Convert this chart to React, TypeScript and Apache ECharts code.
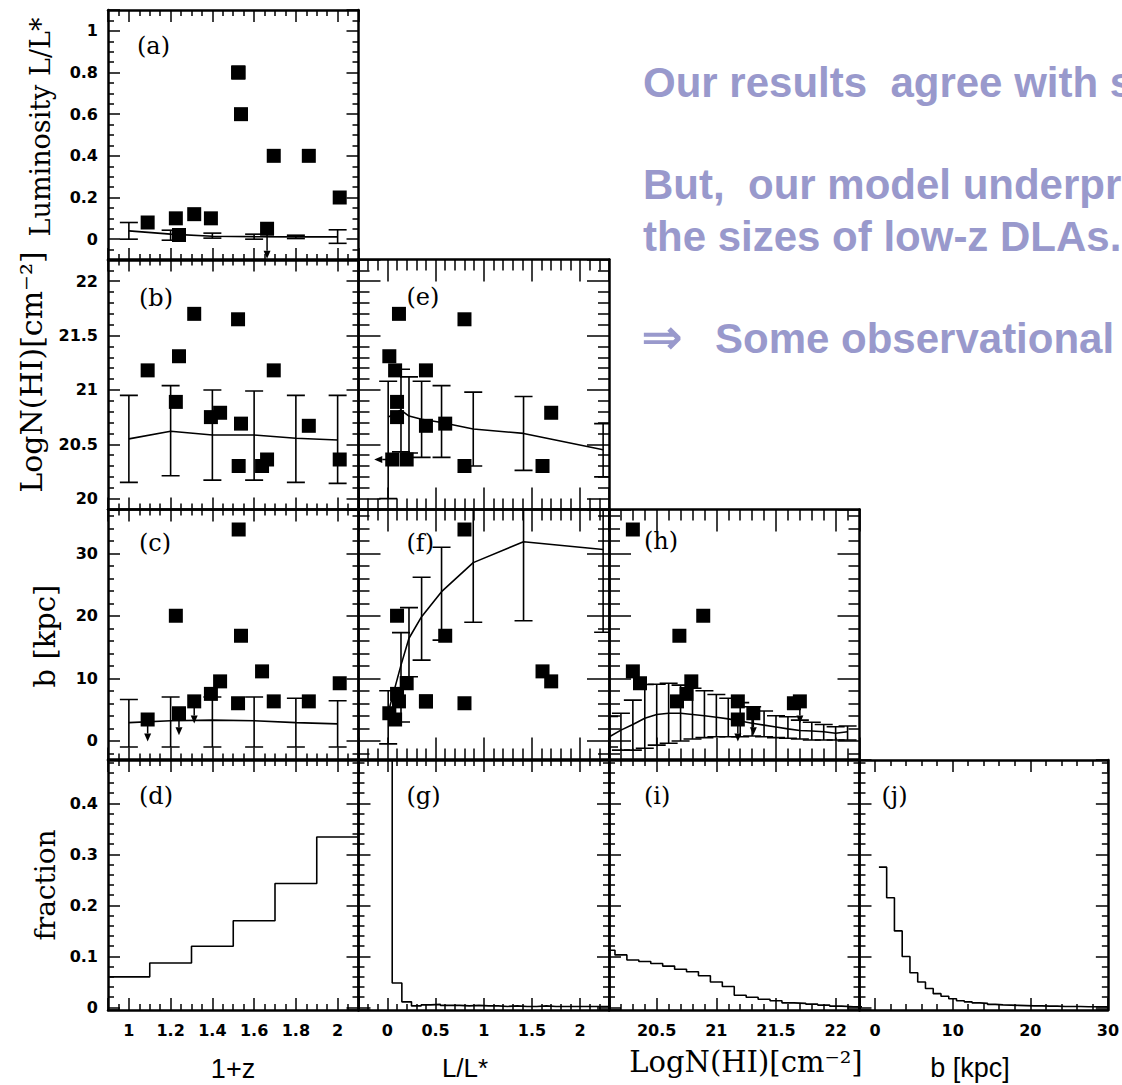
import React, { useEffect, useRef } from "react";
import * as echarts from "echarts";

// ---------- observed DLA host galaxies (one entry per object) ----------
const obsOnePlusZ = [1.09, 1.225, 1.24, 1.313, 1.393, 1.437, 1.523, 1.526, 1.537, 1.638, 1.662, 1.694, 1.862, 2.01];
const obsLum = [0.08, 0.1, 0.02, 0.12, 0.1, 1.7, 0.8, 0.8, 0.6, 1.61, 0.05, 0.4, 0.4, 0.2];
const obsLumUpper = [false, false, false, false, false, false, false, false, false, false, true, false, false, false];
const obsLogNHI = [21.18, 20.89, 21.31, 21.7, 20.75, 20.79, 21.65, 20.3, 20.69, 20.3, 20.36, 21.18, 20.67, 20.36];
const obsImpact: (number | null)[] = [3.4, 20.0, 4.4, 6.3, 7.5, 9.5, 6.0, 33.8, 16.8, 11.1, null, 6.3, 6.3, 9.2];
const obsImpactUpper = [true, false, true, true, false, false, false, false, false, false, false, false, false, false];

// ---------- model, binned in 1+z ----------
const zBins = [1.0, 1.2, 1.4, 1.6, 1.8, 2.0];
const lumByZ = [0.04, 0.024, 0.014, 0.012, 0.011, 0.011];
const lumByZLo = [0.0, -0.005, 0.005, 0.0, 0.003, -0.02];
const lumByZHi = [0.08, 0.043, 0.029, 0.024, 0.019, 0.045];
const nhiByZ = [20.55, 20.62, 20.585, 20.585, 20.555, 20.54];
const nhiByZLo = [20.15, 20.21, 20.17, 20.17, 20.15, 20.14];
const nhiByZHi = [20.95, 21.04, 21.0, 20.99, 20.95, 20.95];
const impByZ = [2.9, 3.2, 3.3, 3.2, 2.9, 2.7];
const impByZLo = [-1, -1, -1, -1, -1, -1];
const impByZHi = [6.6, 7.0, 7.0, 7.0, 6.8, 6.4];

// ---------- model, binned in L/L* ----------
const lumBins = [0.008, 0.141, 0.224, 0.355, 0.562, 0.891, 1.413, 2.239];
const nhiByLum = [20.75, 20.815, 20.76, 20.73, 20.7, 20.64, 20.6, 20.45];
const nhiByLumLo = [20.0, 20.43, 20.42, 20.38, 20.38, 20.3, 20.26, 20.2];
const nhiByLumHi = [21.08, 21.19, 21.12, 21.08, 21.04, 20.98, 20.94, 20.69];
const impByLum = [4.5, 12.1, 16.4, 19.85, 23.85, 28.5, 31.85, 30.6];
const impByLumLo = [-0.5, 3.0, 10.25, 12.9, 16.1, 18.95, 19.2, 17.35];
const impByLumHi = [8.0, 17.3, 21.3, 26.15, 30.95, 39.5, 45.0, 43.0];

// ---------- model, binned in log N(HI) ----------
const nhiBins = [20.1, 20.2, 20.3, 20.4, 20.5, 20.6, 20.7, 20.8, 20.9, 21.0, 21.1, 21.2, 21.3, 21.4, 21.5, 21.6, 21.7, 21.8, 21.9, 22.0, 22.1];
const impByNhi = [0.6, 1.7, 2.6, 3.6, 4.2, 4.4, 4.4, 4.2, 4.0, 3.75, 3.5, 3.15, 2.8, 2.5, 2.2, 1.9, 1.65, 1.55, 1.45, 1.2, 1.45];
const impByNhiLo = [-1.0, -1.5, -1.5, -1.2, -0.7, -0.4, -0.05, 0.28, 0.5, 0.65, 0.65, 0.65, 0.76, 0.65, 0.5, 0.4, 0.28, 0.12, 0.12, 0.12, 0.12];
const impByNhiHi = [3.9, 4.4, 6.5, 9.0, 9.05, 9.2, 8.9, 8.4, 8.0, 7.4, 6.8, 6.1, 5.45, 4.75, 4.0, 3.85, 3.3, 2.95, 2.6, 2.25, 2.35];

// ---------- model distributions (histograms: bin edges + fraction per bin) ----------
const zHistEdges = [0.9, 1.1, 1.3, 1.5, 1.7, 1.9, 2.1];
const zHistFrac = [0.06, 0.087, 0.12, 0.17, 0.243, 0.334];
const lumHistEdges = [-0.05, 0.05, 0.15, 0.25, 0.35, 0.45, 0.55, 0.65, 0.75, 0.85, 0.95, 1.05, 1.15, 1.25, 1.35, 1.45, 1.55, 1.65, 1.75, 1.85, 1.95, 2.05, 2.15, 2.25, 2.35];
const lumHistFrac = [0.9, 0.048, 0.011, 0.003, 0.005, 0.006, 0.004, 0.004, 0.003, 0.004, 0.003, 0.003, 0.002, 0.003, 0.002, 0.002, 0.003, 0.002, 0.002, 0.002, 0.002, 0.002, 0.002, 0.002];
const nhiHistEdges = [20.05, 20.15, 20.25, 20.35, 20.45, 20.55, 20.65, 20.75, 20.85, 20.95, 21.05, 21.15, 21.25, 21.35, 21.45, 21.55, 21.65, 21.75, 21.85, 21.95, 22.05, 22.15, 22.25];
const nhiHistFrac = [0.112, 0.103, 0.093, 0.09, 0.086, 0.081, 0.075, 0.07, 0.062, 0.05, 0.041, 0.024, 0.02, 0.016, 0.013, 0.009, 0.008, 0.0065, 0.0046, 0.0026, 0.0015, 0.001];
const impHistEdges = [0.5, 1.5, 2.5, 3.5, 4.5, 5.5, 6.5, 7.5, 8.5, 9.5, 10.5, 11.5, 12.5, 13.5, 14.5, 15.5, 16.5, 17.5, 18.5, 19.5, 20.5, 21.5, 22.5, 23.5, 24.5, 25.5, 26.5, 27.5, 28.5, 29.5, 30.5];
const impHistFrac = [0.275, 0.215, 0.15, 0.1, 0.068, 0.05, 0.037, 0.027, 0.022, 0.017, 0.013, 0.011, 0.009, 0.008, 0.006, 0.005, 0.0045, 0.004, 0.0035, 0.003, 0.003, 0.0025, 0.0025, 0.002, 0.002, 0.002, 0.0015, 0.0015, 0.0015, 0.001];

// ---------- texts ----------
const panelTags = ["(a)", "(b)", "(c)", "(d)", "(e)", "(f)", "(g)", "(h)", "(i)", "(j)"];
const noteLines = ["Our results  agree with s", "But,  our model underpr", "the sizes of low-z DLAs."];
const noteArrow = "\u21D2";
const noteLast = "Some observational";

// ---------- layout ----------
const COL_LEFT = [108, 358.5, 609, 859.5];
const ROW_TOP = [10, 259.5, 509.5, 760];
const CELL_W = 250.5;
const CELL_H = 250;

type AxisSpec = { min: number; max: number; step: number; minor: number; showMax: boolean };
const AXES: Record<string, AxisSpec> = {
  zz: { min: 0.9, max: 2.1, step: 0.2, minor: 4, showMax: false },
  lum: { min: -0.3, max: 2.3, step: 0.5, minor: 5, showMax: false },
  nhi: { min: 20.1, max: 22.2, step: 0.5, minor: 5, showMax: false },
  imp: { min: -2, max: 30, step: 10, minor: 5, showMax: true },
  lumY: { min: -0.1, max: 1.1, step: 0.2, minor: 4, showMax: false },
  nhiY: { min: 19.9, max: 22.2, step: 0.5, minor: 5, showMax: false },
  impY: { min: -3, max: 37, step: 10, minor: 5, showMax: false },
  frac: { min: -0.005, max: 0.485, step: 0.1, minor: 5, showMax: false },
};

const PANELS = [
  { col: 0, row: 0, x: "zz", y: "lumY", long: false, tag: [29, 36] },
  { col: 0, row: 1, x: "zz", y: "nhiY", long: false, tag: [31, 38] },
  { col: 0, row: 2, x: "zz", y: "impY", long: false, tag: [31, 33] },
  { col: 0, row: 3, x: "zz", y: "frac", long: false, tag: [31, 36] },
  { col: 1, row: 1, x: "lum", y: "nhiY", long: true, tag: [48, 37] },
  { col: 1, row: 2, x: "lum", y: "impY", long: true, tag: [48, 33] },
  { col: 1, row: 3, x: "lum", y: "frac", long: false, tag: [48, 36] },
  { col: 2, row: 2, x: "nhi", y: "impY", long: true, tag: [35, 31] },
  { col: 2, row: 3, x: "nhi", y: "frac", long: false, tag: [35, 36] },
  { col: 3, row: 3, x: "imp", y: "frac", long: false, tag: [22, 36] },
];

const INK = "#000";
const NOTE_COLOR = "#9999cc";

function makeAxis(spec: AxisSpec, gridIndex: number, position: string, labels: boolean, long: boolean, isX: boolean) {
  return {
    type: "value",
    gridIndex,
    position,
    min: spec.min,
    max: spec.max,
    minInterval: spec.step,
    maxInterval: spec.step,
    axisLine: { show: true, onZero: false, lineStyle: { color: INK, width: 2.5 } },
    axisTick: { show: true, inside: true, length: long ? 22 : 12, lineStyle: { color: INK, width: 1.5 } },
    minorTick: { show: true, splitNumber: spec.minor, length: long ? 11 : 6, lineStyle: { color: INK, width: 1.5 } },
    splitLine: { show: false },
    minorSplitLine: { show: false },
    axisLabel: {
      show: labels,
      showMinLabel: false,
      showMaxLabel: spec.showMax,
      margin: isX ? 12 : 10,
      color: INK,
      fontFamily: "DejaVu Sans",
      fontWeight: "bold",
      fontSize: 16,
    },
  };
}

function errorBars(g: number, xs: number[], lo: number[], hi: number[]) {
  const capHalf = 9;
  return {
    type: "custom",
    xAxisIndex: 2 * g,
    yAxisIndex: 2 * g,
    clip: true,
    silent: true,
    data: xs.map((x, i) => [x, lo[i], hi[i]]),
    renderItem: (_p: any, api: any) => {
      const a = api.coord([api.value(0), api.value(1)]);
      const b = api.coord([api.value(0), api.value(2)]);
      const st = { stroke: INK, lineWidth: 1.6, fill: null };
      return {
        type: "group",
        children: [
          { type: "line", shape: { x1: a[0], y1: a[1], x2: b[0], y2: b[1] }, style: st },
          { type: "line", shape: { x1: a[0] - capHalf, y1: a[1], x2: a[0] + capHalf, y2: a[1] }, style: st },
          { type: "line", shape: { x1: b[0] - capHalf, y1: b[1], x2: b[0] + capHalf, y2: b[1] }, style: st },
        ],
      };
    },
  };
}

function limitArrows(g: number, pts: number[][], dir: "down" | "left", len: number) {
  return {
    type: "custom",
    xAxisIndex: 2 * g,
    yAxisIndex: 2 * g,
    clip: true,
    silent: true,
    data: pts,
    renderItem: (_p: any, api: any) => {
      const p = api.coord([api.value(0), api.value(1)]);
      const dx = dir === "down" ? 0 : -1;
      const dy = dir === "down" ? 1 : 0;
      const e = [p[0] + dx * len, p[1] + dy * len];
      const head = 8;
      const half = 3.5;
      const base = [e[0] - dx * head, e[1] - dy * head];
      const nx = -dy;
      const ny = dx;
      return {
        type: "group",
        children: [
          { type: "line", shape: { x1: p[0], y1: p[1], x2: base[0], y2: base[1] }, style: { stroke: INK, lineWidth: 1.5 } },
          {
            type: "polygon",
            shape: { points: [e, [base[0] + nx * half, base[1] + ny * half], [base[0] - nx * half, base[1] - ny * half]] },
            style: { fill: INK },
          },
        ],
      };
    },
  };
}

function curve(g: number, xs: number[], ys: number[]) {
  return {
    type: "line",
    xAxisIndex: 2 * g,
    yAxisIndex: 2 * g,
    silent: true,
    symbol: "none",
    showSymbol: false,
    lineStyle: { color: INK, width: 1.6 },
    data: xs.map((x, i) => [x, ys[i]]),
  };
}

function histogram(g: number, edges: number[], frac: number[]) {
  const pts: number[][] = [];
  frac.forEach((v, i) => {
    pts.push([edges[i], v], [edges[i + 1], v]);
  });
  return {
    type: "line",
    xAxisIndex: 2 * g,
    yAxisIndex: 2 * g,
    silent: true,
    symbol: "none",
    showSymbol: false,
    lineStyle: { color: INK, width: 1.6 },
    data: pts,
  };
}

function squares(g: number, pts: number[][]) {
  return {
    type: "scatter",
    xAxisIndex: 2 * g,
    yAxisIndex: 2 * g,
    silent: true,
    symbol: "rect",
    symbolSize: 14,
    itemStyle: { color: INK, opacity: 1 },
    data: pts,
  };
}

function pairs(xs: (number | null)[], ys: (number | null)[], keep?: boolean[]) {
  const out: number[][] = [];
  xs.forEach((x, i) => {
    const y = ys[i];
    if (x == null || y == null) return;
    if (keep && !keep[i]) return;
    out.push([x, y]);
  });
  return out;
}

function buildOption() {
  const grid: any[] = [];
  const xAxis: any[] = [];
  const yAxis: any[] = [];
  PANELS.forEach((p, g) => {
    grid.push({ left: COL_LEFT[p.col], top: ROW_TOP[p.row], width: CELL_W, height: CELL_H, containLabel: false });
    xAxis.push(makeAxis(AXES[p.x], g, "bottom", p.row === 3, p.long, true));
    xAxis.push(makeAxis(AXES[p.x], g, "top", false, p.long, true));
    yAxis.push(makeAxis(AXES[p.y], g, "left", p.col === 0, p.long, false));
    yAxis.push(makeAxis(AXES[p.y], g, "right", false, p.long, false));
  });

  const series: any[] = [
    // (a) luminosity vs 1+z
    errorBars(0, zBins, lumByZLo, lumByZHi),
    curve(0, zBins, lumByZ),
    limitArrows(0, pairs(obsOnePlusZ, obsLum, obsLumUpper), "down", 30),
    squares(0, pairs(obsOnePlusZ, obsLum)),
    // (b) N(HI) vs 1+z
    errorBars(1, zBins, nhiByZLo, nhiByZHi),
    curve(1, zBins, nhiByZ),
    squares(1, pairs(obsOnePlusZ, obsLogNHI)),
    // (c) impact parameter vs 1+z
    errorBars(2, zBins, impByZLo, impByZHi),
    curve(2, zBins, impByZ),
    limitArrows(2, pairs(obsOnePlusZ, obsImpact, obsImpactUpper), "down", 22),
    squares(2, pairs(obsOnePlusZ, obsImpact)),
    // (d) redshift distribution
    histogram(3, zHistEdges, zHistFrac),
    // (e) N(HI) vs luminosity
    errorBars(4, lumBins, nhiByLumLo, nhiByLumHi),
    curve(4, lumBins, nhiByLum),
    limitArrows(4, pairs(obsLum, obsLogNHI, obsLumUpper), "left", 18),
    squares(4, pairs(obsLum, obsLogNHI)),
    // (f) impact parameter vs luminosity
    errorBars(5, lumBins, impByLumLo, impByLumHi),
    curve(5, lumBins, impByLum),
    squares(5, pairs(obsLum, obsImpact)),
    // (g) luminosity distribution
    histogram(6, lumHistEdges, lumHistFrac),
    // (h) impact parameter vs N(HI)
    errorBars(7, nhiBins, impByNhiLo, impByNhiHi),
    curve(7, nhiBins, impByNhi),
    limitArrows(7, pairs(obsLogNHI, obsImpact, obsImpactUpper), "down", 22),
    squares(7, pairs(obsLogNHI, obsImpact)),
    // (i) N(HI) distribution
    histogram(8, nhiHistEdges, nhiHistFrac),
    // (j) impact parameter distribution
    histogram(9, impHistEdges, impHistFrac),
  ];

  const serif = '"DejaVu Serif", "Liberation Serif", serif';
  const sans = '"Liberation Sans", Arial, sans-serif';
  const graphic: any[] = [];

  PANELS.forEach((p, g) => {
    graphic.push({
      type: "text",
      x: COL_LEFT[p.col] + p.tag[0],
      y: ROW_TOP[p.row] + p.tag[1],
      silent: true,
      style: { text: panelTags[g], font: `24px ${serif}`, fill: INK, align: "left", verticalAlign: "middle" },
    });
  });

  const yTitle = (text: string, x: number, y: number, size: number) => ({
    type: "text",
    x,
    y,
    rotation: Math.PI / 2,
    silent: true,
    style: { text, font: `${size}px ${serif}`, fill: INK, align: "center", verticalAlign: "middle" },
  });
  graphic.push(yTitle("Luminosity L/L*", 40.5, 127, 27));
  graphic.push(yTitle("LogN(HI)[cm\u207B\u00B2]", 31.5, 372, 30));
  graphic.push(yTitle("b [kpc]", 45, 636, 29));
  graphic.push(yTitle("fraction", 45, 885, 28));

  const xTitle = (text: string, x: number, y: number, font: string) => ({
    type: "text",
    x,
    y,
    silent: true,
    style: { text, font, fill: INK, align: "center", verticalAlign: "middle" },
  });
  graphic.push(xTitle("1+z", 233, 1069, `27px ${sans}`));
  graphic.push(xTitle("L/L*", 465, 1068, `26px ${sans}`));
  graphic.push(xTitle("LogN(HI)[cm\u207B\u00B2]", 746, 1062, `29px ${serif}`));
  graphic.push(xTitle("b [kpc]", 970, 1068, `27px ${sans}`));

  const noteY = [82.7, 184.7, 236];
  noteLines.forEach((t, i) => {
    graphic.push({
      type: "text",
      x: 643,
      y: noteY[i],
      silent: true,
      style: { text: t, font: `bold 42px ${sans}`, fill: NOTE_COLOR, align: "left", verticalAlign: "middle" },
    });
  });
  graphic.push({
    type: "text",
    x: 641,
    y: 337,
    silent: true,
    style: { text: noteArrow, font: `bold 50px "DejaVu Sans", ${sans}`, fill: NOTE_COLOR, align: "left", verticalAlign: "middle" },
  });
  graphic.push({
    type: "text",
    x: 715,
    y: 338.7,
    silent: true,
    style: { text: noteLast, font: `bold 42px ${sans}`, fill: NOTE_COLOR, align: "left", verticalAlign: "middle" },
  });

  return {
    animation: false,
    backgroundColor: "#fff",
    grid,
    xAxis,
    yAxis,
    series,
    graphic,
  };
}

export default function App() {
  const ref = useRef<HTMLDivElement>(null);
  useEffect(() => {
    if (!ref.current) return;
    const chart = echarts.init(ref.current, null, { renderer: "svg" });
    chart.setOption(buildOption() as any);
    return () => chart.dispose();
  }, []);
  return (
    <div
      ref={ref}
      style={{ position: "absolute", left: 0, top: 0, width: 1122, height: 1085, background: "#fff" }}
    />
  );
}
